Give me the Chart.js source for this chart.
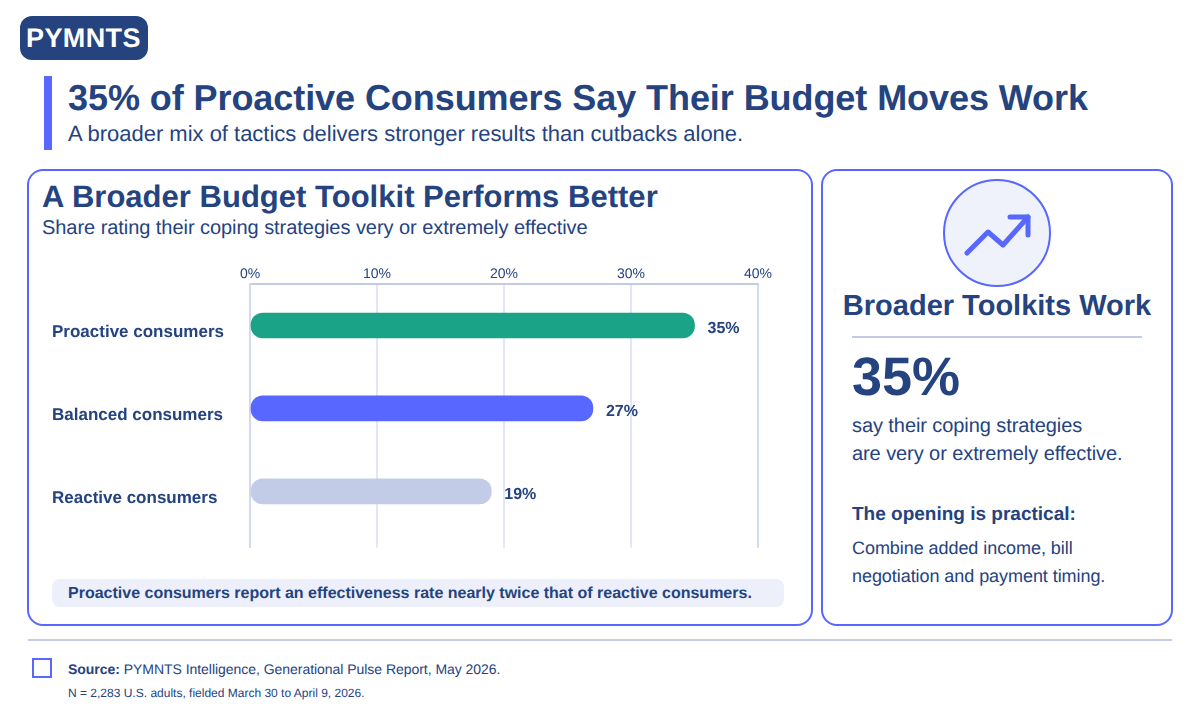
<!DOCTYPE html>
<html>
<head>
<meta charset="utf-8">
<title>PYMNTS chart</title>
<script src="https://cdn.jsdelivr.net/npm/chart.js@4"></script>
<style>
  html, body { margin: 0; padding: 0; background: #fff; }
  body { width: 1200px; height: 720px; position: relative; overflow: hidden; font-family: "Liberation Sans", sans-serif; color: #24437f; text-rendering: geometricPrecision; }
  .abs { position: absolute; white-space: nowrap; }
  .box { position: absolute; box-sizing: border-box; border: 2px solid #5767ff; border-radius: 16px; background: #fff; }
  b { font-weight: 700; }
</style>
</head>
<body>
  <div class="abs" style="left:20px;top:16px;width:128px;height:44px;background:#24437f;border-radius:12px;"></div>
  <div class="abs" style="left:26px;top:16px;line-height:44px;font-size:27px;font-weight:700;color:#fff;letter-spacing:.4px;">PYMNTS</div>

  <div class="abs" style="left:44px;top:76px;width:8px;height:74px;background:#5767ff;"></div>
  <div class="abs" style="left:68px;top:77px;line-height:42px;font-size:36px;font-weight:700;letter-spacing:-.07px;">35% of Proactive Consumers Say Their Budget Moves Work</div>
  <div class="abs" style="left:68px;top:120px;line-height:28px;font-size:22px;letter-spacing:-.015px;">A broader mix of tactics delivers stronger results than cutbacks alone.</div>

  <div class="box" style="left:27px;top:169px;width:786px;height:457px;"></div>
  <div class="abs" style="left:42px;top:178px;line-height:38px;font-size:31px;font-weight:700;letter-spacing:.02px;">A Broader Budget Toolkit Performs Better</div>
  <div class="abs" style="left:42px;top:216px;line-height:24px;font-size:20px;letter-spacing:-.05px;">Share rating their coping strategies very or extremely effective</div>

  <div class="abs" style="left:52px;top:579px;width:732px;height:28px;background:#edf0fa;border-radius:8px;"></div>
  <div class="abs" style="left:68px;top:580px;line-height:28px;font-size:16px;font-weight:700;">Proactive consumers report an effectiveness rate nearly twice that of reactive consumers.</div>

  <!-- axis margins keep the plot area clear of the canvas edge, so the canvas runs a bit past the grid -->
  <div class="abs" style="left:42px;top:256px;width:750px;height:305px;"><canvas id="budgetChart" width="750" height="305"></canvas></div>

  <div class="box" style="left:821px;top:169px;width:352px;height:457px;"></div>
  <svg class="abs" style="left:940px;top:176px;" width="114" height="114" viewBox="0 0 114 114">
    <circle cx="57" cy="57" r="53" fill="#eff2fb" stroke="#5767ff" stroke-width="2"/>
    <path d="M27 77 L48 56 L63 69 L88 41" fill="none" stroke="#5767ff" stroke-width="5" stroke-linecap="round" stroke-linejoin="round"/>
    <path d="M70 41 L88 41 L88 59" fill="none" stroke="#5767ff" stroke-width="5" stroke-linecap="round" stroke-linejoin="round"/>
  </svg>
  <div class="abs" style="left:821px;width:352px;top:288px;line-height:36px;font-size:29px;font-weight:700;text-align:center;">Broader Toolkits Work</div>
  <div class="abs" style="left:852px;top:336px;width:290px;height:2px;background:#c2cce6;"></div>
  <div class="abs" style="left:852px;top:346px;line-height:62px;font-size:54px;font-weight:700;">35%</div>
  <div class="abs" style="left:852px;top:412px;line-height:28px;font-size:20px;letter-spacing:-.08px;">say their coping strategies<br>are very or extremely effective.</div>
  <div class="abs" style="left:852px;top:503px;line-height:24px;font-size:19px;font-weight:700;">The opening is practical:</div>
  <div class="abs" style="left:852px;top:534px;line-height:28px;font-size:18px;letter-spacing:-.06px;">Combine added income, bill<br>negotiation and payment timing.</div>

  <div class="abs" style="left:28px;top:639px;width:1144px;height:2px;background:#c2cce6;"></div>
  <div class="abs" style="left:32px;top:658px;width:20px;height:20px;box-sizing:border-box;border:2px solid #5767ff;"></div>
  <div class="abs" style="left:68px;top:660px;line-height:18px;font-size:14px;letter-spacing:-.04px;"><b>Source:</b> PYMNTS Intelligence, Generational Pulse Report, May 2026.</div>
  <div class="abs" style="left:68px;top:685px;line-height:16px;font-size:12px;">N = 2,283 U.S. adults, fielded March 30 to April 9, 2026.</div>

<script>
// Chart data
const categories = ['Proactive consumers', 'Balanced consumers', 'Reactive consumers'];
const effectiveShare = [35, 27, 19];
const barColors = ['#1aa386', '#5767ff', '#c2cce6'];
const xTicks = [0, 10, 20, 30, 40];

const inkColor = '#24437f';

// value labels to the right of each bar
const valueLabels = {
  id: 'valueLabels',
  beforeDraw(chart) {
    chart.ctx.textRendering = 'geometricPrecision';
  },
  afterDatasetsDraw(chart) {
    const ctx = chart.ctx;
    const bars = chart.getDatasetMeta(0).data;
    ctx.save();
    ctx.font = '700 16px "Liberation Sans"';
    ctx.fillStyle = inkColor;
    ctx.textAlign = 'left';
    ctx.textBaseline = 'middle';
    bars.forEach((bar, i) => {
      ctx.fillText(effectiveShare[i] + '%', bar.x + 13, bar.y + 3.5);
    });
    ctx.restore();
  }
};

new Chart(document.getElementById('budgetChart'), {
  type: 'bar',
  data: {
    datasets: [{
      data: effectiveShare.map((v, i) => ({ x: v, y: i })),
      backgroundColor: barColors,
      barThickness: 25,
      borderRadius: 12,
      borderSkipped: false
    }]
  },
  options: {
    indexAxis: 'y',
    responsive: false,
    animation: false,
    layout: { padding: { left: 10, right: 34, top: 0, bottom: 3 } },
    plugins: { legend: { display: false }, tooltip: { enabled: false } },
    scales: {
      x: {
        position: 'top',
        min: 0,
        max: 40,
        afterBuildTicks(axis) { axis.ticks = xTicks.map(v => ({ value: v })); },
        afterFit(axis) { axis.height = 28; },
        grid: {
          color: ctx => (ctx.tick && ctx.tick.value === 40 ? '#d3d9ef' : '#e3e7f5'),
          lineWidth: 2,
          drawTicks: false
        },
        border: { color: '#c2cce6', width: 2 },
        ticks: {
          color: inkColor,
          font: { family: 'Liberation Sans', size: 14 },
          padding: 1,
          maxRotation: 0,
          autoSkip: false,
          callback: v => v + '%'
        }
      },
      y: {
        type: 'linear',
        reverse: true,
        offset: false,
        min: -0.5,
        max: 2.68,
        afterBuildTicks(axis) { axis.ticks = categories.map((c, i) => ({ value: i })); },
        afterFit(axis) { axis.width = 198; },
        grid: { display: false },
        border: { color: '#d3d9ef', width: 2 },
        ticks: {
          color: inkColor,
          font: { family: 'Liberation Sans', size: 17, weight: '700' },
          crossAlign: 'far',
          labelOffset: 6.5,
          callback: v => categories[v]
        }
      }
    }
  },
  plugins: [valueLabels]
});
</script>
</body>
</html>
